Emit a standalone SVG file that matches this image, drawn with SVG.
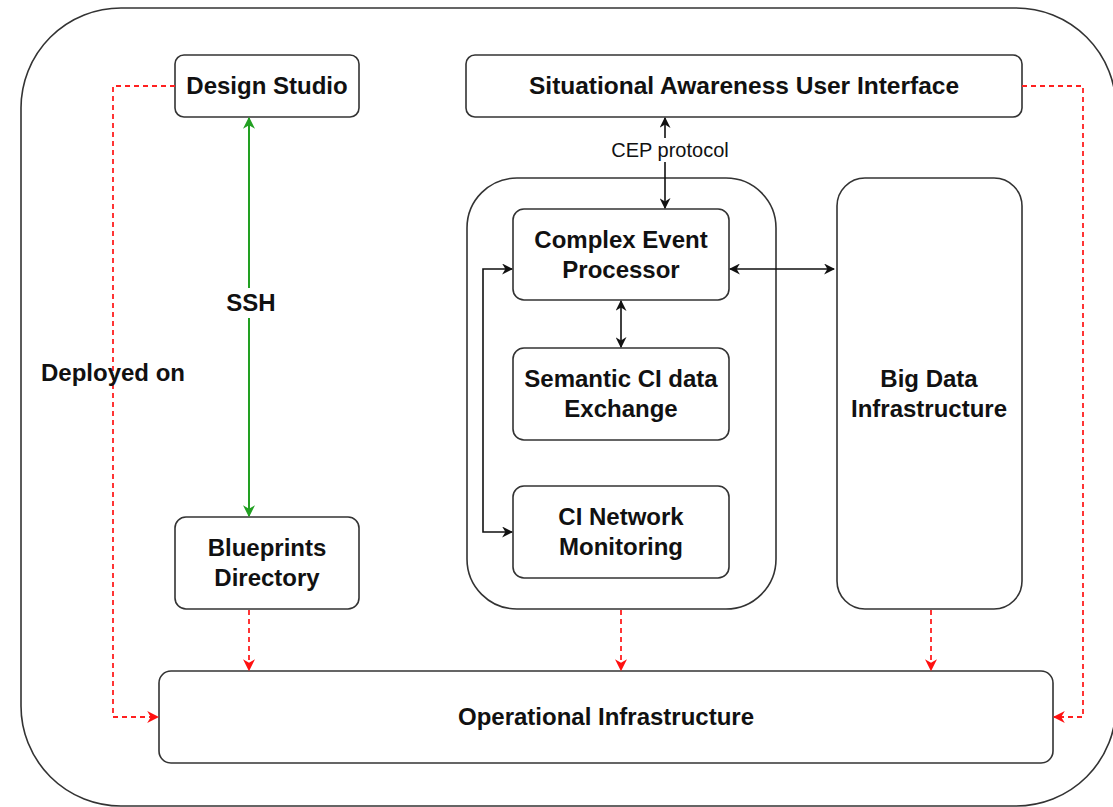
<svg xmlns="http://www.w3.org/2000/svg" width="1113" height="807" viewBox="0 0 1113 807">
  <style>
    .box { fill: #ffffff; stroke: #333333; stroke-width: 1.6; }
    .lbl { font-family: "Liberation Sans", Arial, sans-serif; font-weight: bold; font-size: 24px; fill: #111111; text-anchor: middle; }
    .small { font-family: "Liberation Sans", Arial, sans-serif; font-size: 20px; fill: #111111; text-anchor: middle; }
    .blk { fill: none; stroke: #111111; stroke-width: 1.6; }
    .grn { fill: none; stroke: #22a022; stroke-width: 2; }
    .red { fill: none; stroke: #ff2020; stroke-width: 1.8; stroke-dasharray: 5 4; }
  </style>
  <defs>
    <marker id="ab" viewBox="0 0 10 10" refX="9" refY="5" markerWidth="11" markerHeight="11" markerUnits="userSpaceOnUse" orient="auto-start-reverse">
      <path d="M0,0 L10,5 L0,10 L3,5 Z" fill="#111111"/>
    </marker>
    <marker id="ag" viewBox="0 0 10 10" refX="9" refY="5" markerWidth="12" markerHeight="12" markerUnits="userSpaceOnUse" orient="auto-start-reverse">
      <path d="M0,0 L10,5 L0,10 L3,5 Z" fill="#22a022"/>
    </marker>
    <marker id="ar" viewBox="0 0 10 10" refX="9" refY="5" markerWidth="12" markerHeight="12" markerUnits="userSpaceOnUse" orient="auto">
      <path d="M0,0 L10,5 L0,10 L3,5 Z" fill="#ff1010"/>
    </marker>
  </defs>
  <rect width="1113" height="807" fill="#ffffff"/>

  <g id="outer-frame">
    <rect x="21" y="8" width="1095" height="798" rx="100" ry="100" class="box"/>
  </g>

  <g id="design-studio">
    <rect x="175" y="55" width="184" height="62" rx="9" class="box"/>
    <text x="267" y="94" class="lbl">Design Studio</text>
  </g>

  <g id="sa-ui">
    <rect x="466" y="55" width="556" height="62" rx="9" class="box"/>
    <text x="744" y="94" class="lbl" textLength="430" lengthAdjust="spacingAndGlyphs">Situational Awareness User Interface</text>
  </g>

  <g id="processing-group">
    <rect x="467" y="178" width="309" height="431" rx="50" class="box"/>
  </g>

  <g id="cep">
    <rect x="513" y="209" width="216" height="91" rx="11" class="box"/>
    <text x="621" y="248" class="lbl">Complex Event</text>
    <text x="621" y="278" class="lbl">Processor</text>
  </g>

  <g id="semantic">
    <rect x="513" y="348" width="216" height="92" rx="11" class="box"/>
    <text x="621" y="387" class="lbl">Semantic CI data</text>
    <text x="621" y="417" class="lbl">Exchange</text>
  </g>

  <g id="ci-network">
    <rect x="513" y="486" width="216" height="92" rx="11" class="box"/>
    <text x="621" y="525" class="lbl">CI Network</text>
    <text x="621" y="555" class="lbl">Monitoring</text>
  </g>

  <g id="big-data">
    <rect x="837" y="178" width="185" height="431" rx="28" class="box"/>
    <text x="929" y="387" class="lbl">Big Data</text>
    <text x="929" y="417" class="lbl">Infrastructure</text>
  </g>

  <g id="blueprints">
    <rect x="175" y="517" width="184" height="92" rx="11" class="box"/>
    <text x="267" y="556" class="lbl">Blueprints</text>
    <text x="267" y="586" class="lbl">Directory</text>
  </g>

  <g id="operational">
    <rect x="159" y="671" width="894" height="92" rx="12" class="box"/>
    <text x="606" y="725" class="lbl">Operational Infrastructure</text>
  </g>

  <g id="connectors">
    <!-- SSH -->
    <line x1="249" y1="118" x2="249" y2="516" class="grn" marker-start="url(#ag)" marker-end="url(#ag)"/>
    <!-- CEP protocol -->
    <line x1="665" y1="118" x2="665" y2="138" class="blk" marker-start="url(#ab)"/>
    <line x1="665" y1="162" x2="665" y2="208" class="blk" marker-end="url(#ab)"/>
    <!-- CEP <-> Big Data -->
    <line x1="730" y1="269" x2="834" y2="269" class="blk" marker-start="url(#ab)" marker-end="url(#ab)"/>
    <!-- CEP <-> Semantic -->
    <line x1="621" y1="301" x2="621" y2="347" class="blk" marker-start="url(#ab)" marker-end="url(#ab)"/>
    <!-- CEP <-> CI Network Monitoring -->
    <path d="M512,269 H483 V532 H512" class="blk" marker-start="url(#ab)" marker-end="url(#ab)"/>
    <!-- Deployed on -->
    <path d="M175,86 H113 V717 H158" class="red" marker-end="url(#ar)"/>
    <path d="M1022,86 H1083 V717 H1054" class="red" marker-end="url(#ar)"/>
    <line x1="249" y1="610" x2="249" y2="670" class="red" marker-end="url(#ar)"/>
    <line x1="621" y1="610" x2="621" y2="670" class="red" marker-end="url(#ar)"/>
    <line x1="931" y1="610" x2="931" y2="670" class="red" marker-end="url(#ar)"/>
    <text x="113" y="381" class="lbl">Deployed on</text>
    <rect x="226" y="288" width="50" height="30" fill="#ffffff"/>
    <text x="251" y="311" class="lbl">SSH</text>
    <text x="670" y="157" class="small">CEP protocol</text>
  </g>
</svg>
